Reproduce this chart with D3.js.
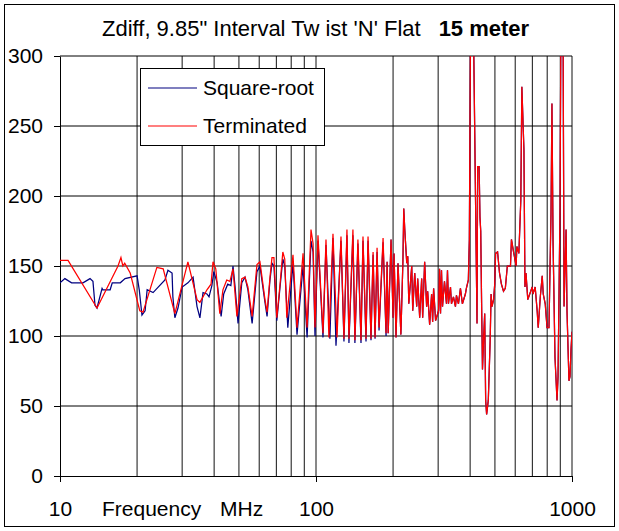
<!DOCTYPE html>
<html>
<head>
<meta charset="utf-8">
<script src="https://cdn.jsdelivr.net/npm/d3@7/dist/d3.min.js"></script>
<style>
  html, body { margin: 0; padding: 0; background: #fff; }
  svg { display: block; }
  text { font-family: "Liberation Sans", Arial, sans-serif; fill: #000; }
</style>
</head>
<body>
<svg id="chart" width="619" height="531"></svg>
<script>
// ---------------- data ----------------
const titleText = "Zdiff, 9.85\" Interval Tw ist 'N' Flat";
const titleBold = "15 meter";
const seriesNames = ["Square-root", "Terminated"];
const xTickValues = [10, 100, 1000];
const yTickValues = [0, 50, 100, 150, 200, 250, 300];
const xGridValues = [20, 30, 40, 50, 60, 70, 80, 90, 100, 200, 300, 400, 500, 600, 700, 800, 900, 1000];
const xAxisLabelA = "Frequency";
const xAxisLabelB = "MHz";

// Terminated (red) below ~188 MHz: [MHz, ohms]
const redLow = [
  [10,154],[10.75,154],[13.95,120],[16.85,150],[17.3,156],[17.6,150],[17.9,152],[18.8,145],
  [20.5,118],[21.1,117],[23.9,149],[25.3,148],[28.1,116],[31.6,153],[34.3,126],[35.2,124],
  [37.5,133],[38.9,137],[39.6,153],[40.6,148],[42.1,116],[43.3,133],[44.8,140],[46.1,139],
  [47.4,148],[49.1,114],[51.3,141],[52.8,142],[54.2,135],[56.3,114],[58.8,151],[60.4,153],
  [63.2,126],[64.4,117],[66.1,142],[67.3,156],[68.5,156],[70.3,113],[72.2,135],[74.2,160],
  [75.5,155],[76.9,113],[81.3,158],[84.3,106],[89.0,159],[92.3,106],[95.6,176],[97.4,166],
  [99.1,106],[101.8,172],[106.5,102],[109.4,169],[112.3,99],[116.5,173],[120.8,99],[125.2,171],
  [128.6,98],[132.1,176],[134.5,98],[139.4,176],[141.9,97],[145.8,169],[149.9,97],[152.6,171],
  [156.8,98],[159.7,171],[164.0,98],[167.1,160],[170.1,99],[173.2,163],[176.3,106],[182.8,170],
  [187.8,102]
];

// Square-root (blue) below ~188 MHz: [MHz, ohms]
const blueLow = [
  [10,138],[10.45,141],[11.1,138],[12.3,138],[13.1,141],[13.45,139],[13.7,122],[13.95,120],
  [14.6,134],[14.7,133],[15.7,133],[16.0,138],[17.2,138],[17.95,141],[20.0,143],[20.4,133],
  [20.9,115],[21.5,118],[21.9,133],[23.1,131],[25.7,140],[26.4,147],[27.4,145],[27.6,128],
  [28.1,113],[28.9,120],[30.0,135],[31.6,138],[33.1,142],[34.3,121],[35.2,113],[36.2,131],
  [37.5,130],[38.2,128],[39.2,136],[39.9,146],[41.1,138],[42.6,114],[43.6,130],[45.2,137],
  [46.5,136],[47.4,150],[48.3,135],[49.6,109],[51.3,138],[52.8,142],[54.2,133],[56.3,109],
  [58.8,146],[60.4,150],[63.2,124],[64.4,114],[66.1,140],[67.3,152],[68.5,150],[70.3,111],
  [72.2,133],[74.2,155],[75.5,150],[77.6,106],[81.3,152],[84.3,101],[89.0,150],[92.3,99],
  [95.6,168],[97.4,160],[99.1,100],[101.8,168],[106.5,99],[109.4,165],[113.3,98],[116.5,170],
  [119.7,93],[125.2,168],[128.6,96],[132.1,172],[134.5,95],[139.4,172],[141.9,95],[145.8,166],
  [149.9,95],[152.6,168],[156.8,96],[159.7,168],[164.0,97],[167.1,158],[170.1,98],[173.2,160],
  [176.3,104],[182.8,167],[187.8,100]
];

// Above ~189 MHz both traces coincide: [MHz, ohms]
const highBoth = [
  [189.6,153],[191.4,102],[196.4,169],[200,113],[201.8,159],[205.4,99],[209.1,152],[214.6,101],
  [218.5,153],[220.2,191],[222.2,176],[226.2,152],[228.3,157],[230.4,123],[236.6,150],[238.7,118],
  [243.0,145],[247.4,121],[249.6,141],[254.1,113],[258.7,141],[261.0,113],[265.7,153],[270.5,121],
  [273.0,132],[277.9,108],[282.9,130],[285.5,110],[288.0,134],[293.2,111],[301.1,118],[303.8,148],
  [306.5,116],[309.2,147],[312.0,121],[317.6,139],[323.4,123],[326.3,147],[329.2,123],[335.2,135],
  [338.2,123],[344.3,128],[350.5,121],[353.7,129],[360.1,123],[366.6,134],[373.2,123],[383.3,130],
  [386.7,134],[393.7,140],[397.2,169],[402,340],[411,340],[425.6,109],[428,221],[433.7,221],
  [437,185],[440,175],[444,116],[447,76],[452,100],[456,116],[460,54],[464,44],
  [471,54],[479,97],[483,130],[487,121],[494,126],[499,137],[503,159],[512,160],
  [521,145],[530,137],[540,132],[549,134],[559,150],[575,150],[580,169],[590,161],
  [605,150],[609,164],[620,159],[631,197],[637,278],[649,233],[655,135],[661,145],
  [672,126],[699,135],[704,130],[718,135],[731,118],[738,106],[752,128],[765,143],
  [772,130],[786,123],[799,106],[813,106],[828,188],[835,266],[843,169],[858,85],
  [874,54],[882,71],[898,192],[906,340],[922,340],[931,121],[948,176],[956,118],
  [973,68],[982,71],[991,90],[1000,103]
];

const blueSeries = blueLow.concat(highBoth);
const redSeries = redLow.concat(highBoth);

// ---------------- layout ----------------
const svg = d3.select("#chart");
const plot = { left: 60, right: 572, top: 56, bottom: 476 };

const x = d3.scaleLog().domain([10, 1000]).range([plot.left, plot.right]);
const y = d3.scaleLinear().domain([0, 300]).range([plot.bottom, plot.top]);

// outer frame
svg.append("rect")
  .attr("x", 4.5).attr("y", 4.5).attr("width", 610).attr("height", 522)
  .attr("fill", "#fff").attr("stroke", "#000").attr("stroke-width", 1);

// title
const title = svg.append("text").attr("x", 102).attr("y", 36).attr("font-size", 22);
title.append("tspan").text(titleText);
title.append("tspan").attr("dx", 18).attr("font-weight", "bold").text(titleBold);

// grid
const grid = svg.append("g");
grid.selectAll("line.v").data(xGridValues).join("line")
  .attr("x1", d => x(d)).attr("x2", d => x(d))
  .attr("y1", plot.top).attr("y2", plot.bottom)
  .attr("stroke", "#111").attr("stroke-width", 1);
grid.selectAll("line.h").data(yTickValues.filter(v => v > 0)).join("line")
  .attr("x1", plot.left).attr("x2", plot.right)
  .attr("y1", d => y(d)).attr("y2", d => y(d))
  .attr("stroke", "#000").attr("stroke-width", 1);

// axes
const yAxis = d3.axisLeft(y).tickValues(yTickValues).tickSize(6).tickSizeOuter(0).tickPadding(11)
  .tickFormat(d3.format("d"));
const gy = svg.append("g").attr("transform", `translate(${plot.left},0)`).call(yAxis);
const xAxis = d3.axisBottom(x).tickValues(xTickValues).tickSize(6).tickSizeOuter(0).tickPadding(19)
  .tickFormat(d3.format("d"));
const gx = svg.append("g").attr("transform", `translate(0,${plot.bottom})`).call(xAxis);
[gx, gy].forEach(g => {
  g.selectAll("path.domain").attr("stroke", "#000");
  g.selectAll(".tick line").attr("stroke", "#000");
  g.selectAll("text").attr("font-size", 21).attr("font-family", "'Liberation Sans', Arial, sans-serif").attr("fill", "#000");
});

svg.append("text").attr("x", 102).attr("y", 516).attr("font-size", 21).text(xAxisLabelA);
svg.append("text").attr("x", 220).attr("y", 516).attr("font-size", 21).text(xAxisLabelB);

// clip
svg.append("clipPath").attr("id", "plotClip").append("rect")
  .attr("x", plot.left).attr("y", plot.top)
  .attr("width", plot.right - plot.left).attr("height", plot.bottom - plot.top);

const line = d3.line().x(d => x(d[0])).y(d => y(d[1]));
const lines = svg.append("g").attr("clip-path", "url(#plotClip)");
lines.append("path").datum(blueSeries).attr("d", line)
  .attr("fill", "none").attr("stroke", "#000080").attr("stroke-width", 1.25);
lines.append("path").datum(redSeries).attr("d", line)
  .attr("fill", "none").attr("stroke", "#ff0000").attr("stroke-width", 1.25);

// legend
const lg = svg.append("g");
lg.append("rect").attr("x", 140.5).attr("y", 68.5).attr("width", 184).attr("height", 77)
  .attr("fill", "#fff").attr("stroke", "#000").attr("stroke-width", 1);
const legendColors = ["#000080", "#ff0000"];
const legendY = [88, 126];
seriesNames.forEach((name, i) => {
  lg.append("line").attr("x1", 148).attr("x2", 197).attr("y1", legendY[i]).attr("y2", legendY[i])
    .attr("stroke", legendColors[i]).attr("stroke-width", 1.1);
  lg.append("text").attr("x", 203).attr("y", legendY[i] + 7).attr("font-size", 21).text(name);
});
</script>
</body>
</html>
